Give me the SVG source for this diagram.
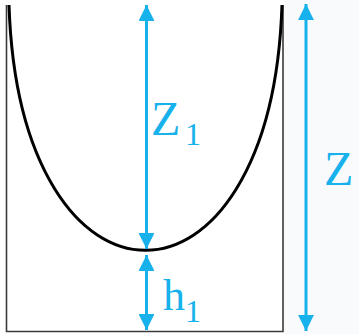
<svg xmlns="http://www.w3.org/2000/svg" width="359" height="334" viewBox="0 0 359 334">
  <defs>
    <style>
      .wall { fill: none; stroke: #3a3a3a; stroke-width: 1.6; }
      .curve { fill: none; stroke: #000; stroke-width: 3; }
      .dim { stroke: #17b1ec; stroke-width: 3; fill: none; }
      .lbl { fill: #17b1ec; font-family: Times New Roman, Times, Liberation Serif, DejaVu Serif, serif; }
    </style>
    <marker id="ah" viewBox="0 0 10 10" refX="10" refY="5" markerWidth="5.3" markerHeight="5.3" markerUnits="strokeWidth" orient="auto-start-reverse">
      <path d="M0,0 L10,5 L0,10 Z" fill="#17b1ec"/>
    </marker>
  </defs>
  <rect x="0" y="0" width="359" height="334" fill="#ffffff"/>
  <rect x="284" y="0" width="75" height="334" fill="#f9fafc"/>
  <g id="container">
    <path class="wall" d="M6.5,5 L6.5,331.5 L283,331.5 L283,5"/>
  </g>
  <g id="surface">
    <path class="curve" d="M9,5 C20,332 271,332 282,5"/>
  </g>
  <g id="connectors">
    <line class="dim" x1="146.5" y1="5" x2="146.5" y2="249" marker-start="url(#ah)" marker-end="url(#ah)"/>
    <line class="dim" x1="146.5" y1="255" x2="146.5" y2="330" marker-start="url(#ah)" marker-end="url(#ah)"/>
    <line class="dim" x1="306" y1="4" x2="306" y2="331" marker-start="url(#ah)" marker-end="url(#ah)"/>
  </g>
  <g id="label-z1">
    <text class="lbl" x="151" y="135" font-size="48">Z</text>
    <text class="lbl" x="185" y="145" font-size="32">1</text>
  </g>
  <g id="label-h1">
    <text class="lbl" x="163" y="310" font-size="44">h</text>
    <text class="lbl" x="185" y="322" font-size="32">1</text>
  </g>
  <g id="label-z">
    <text class="lbl" x="324" y="185" font-size="48">Z</text>
  </g>
</svg>
